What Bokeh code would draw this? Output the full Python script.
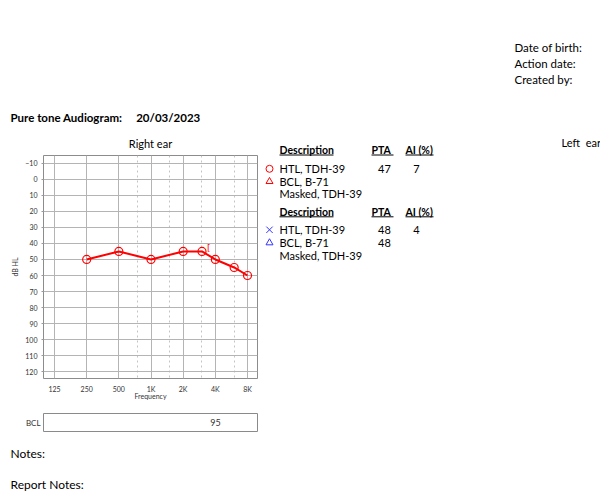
from bokeh.plotting import figure
from bokeh.layouts import column, row
from bokeh.models import Range1d, FixedTicker, Label
from bokeh.core.properties import value
from bokeh.embed import file_html
from bokeh.resources import INLINE

# ---------------- data ----------------
freqs = [250, 500, 1000, 2000, 3000, 4000, 6000, 8000]
right_htl_db = [50, 45, 50, 45, 45, 50, 55, 60]
bc_masked_freq = [3000]
bc_masked_db = [45]

x_tick_values = [125, 250, 500, 1000, 2000, 4000, 8000]
x_tick_labels = ["125", "250", "500", "1K", "2K", "4K", "8K"]
x_half_octaves = [750, 1500, 3000, 6000]
y_tick_values = [-10, 0, 10, 20, 30, 40, 50, 60, 70, 80, 90, 100, 110, 120]

right_rows_marker = ["circle", "triangle", None]
right_rows_desc = ["HTL, TDH-39", "BCL, B-71", "Masked, TDH-39"]
right_rows_pta = ["47", "", ""]
right_rows_ai = ["7", "", ""]

left_rows_marker = ["x", "triangle", None]
left_rows_desc = ["HTL, TDH-39", "BCL, B-71", "Masked, TDH-39"]
left_rows_pta = ["48", "48", ""]
left_rows_ai = ["4", "", ""]

table_headers = ["Description", "PTA", "AI (%)"]
header_lines = ["Date of birth:", "Action date:", "Created by:"]
bcl_value = ["95"]
audiogram_title = "Pure tone Audiogram:"
audiogram_date = "20/03/2023"

RED = "#ff0000"
BLUE = "#3434ff"
FONT = "Lato"
INK = "#000000"

TOP = 127  # page y where the audiogram row starts


def blank(x0, x1, y0, y1):
    """A figure whose frame fills it, with page-pixel data ranges."""
    f = figure(width=x1 - x0, height=y1 - y0, x_range=Range1d(x0, x1), y_range=Range1d(y1, y0),
               output_backend="svg", toolbar_location=None,
               x_axis_location=None, y_axis_location=None, min_border=0)
    f.grid.visible = False
    f.outline_line_color = None
    return f


def put(f, text, x, y, size, bold=False, align="left", color=INK):
    f.add_layout(Label(x=x, y=y, text=text, text_font=FONT, text_font_size=f"{size}px",
                       text_font_style="bold" if bold else "normal",
                       text_align=align, text_baseline="middle", text_color=color))


# ---------------- header ----------------
head = blank(0, 600, 0, TOP)
for txt, yy in zip(header_lines, [47, 62.5, 78.5]):
    put(head, txt, 514, yy, 11.5)
put(head, audiogram_title, 10, 116.5, 11.5, bold=True)
put(head, audiogram_date, 135.7, 116.5, 11.5, bold=True)

# ---------------- audiogram ----------------
p = figure(width=264, height=(155 - TOP) + 223 + 32, x_axis_type="log",
           x_range=Range1d(98.6, 9922), y_range=Range1d(124.2, -14.8),
           output_backend="svg", toolbar_location=None,
           min_border_left=43, min_border_right=7, min_border_top=155 - TOP, min_border_bottom=32,
           title="Right ear")
p.title.align = "center"
p.title.offset = -3
p.title.text_font = FONT
p.title.text_font_size = "11px"
p.title.text_font_style = "normal"
p.title.text_color = INK
p.title.standoff = 12
p.outline_line_color = "#8c8c8c"
p.xaxis.ticker = FixedTicker(ticks=x_tick_values, minor_ticks=x_half_octaves)
p.xaxis.major_label_overrides = dict(zip(x_tick_values, x_tick_labels))
p.yaxis.ticker = FixedTicker(ticks=y_tick_values)
p.xgrid.grid_line_color = "#b4b4b4"
p.ygrid.grid_line_color = "#b4b4b4"
p.xgrid.minor_grid_line_color = "#c4c4c4"
p.xgrid.minor_grid_line_dash = "2 3"
for ax in (p.xaxis, p.yaxis):
    ax.axis_line_color = None
    ax.major_tick_line_color = "#9a9a9a"
    ax.major_tick_in = 0
    ax.minor_tick_line_color = None
    ax.major_label_text_font = FONT
    ax.major_label_text_font_size = "7px"
    ax.major_label_text_color = "#333333"
    ax.axis_label_text_font = FONT
    ax.axis_label_text_font_size = "7px"
    ax.axis_label_text_font_style = "normal"
    ax.axis_label_text_color = "#333333"
p.xaxis.major_tick_out = 0
p.yaxis.major_tick_out = 2
p.xaxis.axis_label = "Frequency"
p.yaxis.axis_label = "dB HL"
p.xaxis.major_label_standoff = 2
p.xaxis.axis_label_standoff = -4
p.yaxis.major_label_standoff = 4
p.yaxis.axis_label_standoff = 3

p.line(freqs, right_htl_db, line_color=RED, line_width=2)
p.scatter(freqs, right_htl_db, marker="circle", size=8, line_color=RED, fill_color=None, line_width=1.2)
p.text(x=bc_masked_freq, y=bc_masked_db, text=["["], text_color=RED, text_font=value("DejaVu Sans"),
       text_font_size="9px", text_align="left", text_baseline="middle", x_offset=5, y_offset=-3)

# ---------------- BCL strip ----------------
b = figure(width=264, height=30, x_range=Range1d(43, 261), y_range=Range1d(0, 1),
           output_backend="svg", toolbar_location=None, x_axis_location=None,
           min_border_left=43, min_border_right=3, min_border_top=3, min_border_bottom=9)
b.grid.visible = False
b.outline_line_color = "#8a8a8a"
b.yaxis.ticker = FixedTicker(ticks=[0.5])
b.yaxis.major_label_overrides = {0.5: "BCL"}
b.yaxis.axis_line_color = None
b.yaxis.major_tick_line_color = None
b.yaxis.major_tick_out = 0
b.yaxis.major_tick_in = 0
b.yaxis.minor_tick_line_color = None
b.yaxis.major_label_standoff = 3
b.yaxis.major_label_text_font = FONT
b.yaxis.major_label_text_font_size = "8px"
b.yaxis.major_label_text_color = "#333333"
b.text(x=[218.3], y=[0.5], text=bcl_value, text_font=value(FONT), text_font_size="9px",
       text_align="center", text_baseline="middle", text_color="#333333")

# ---------------- legend tables ----------------
leg = blank(264, 600, TOP, 440)
put(leg, "Left\u00a0\u00a0ear", 561, 141.5, 11)


def table(y_head, y_rows, markers, desc, pta, ai, color):
    for txt, x0, x1 in zip(table_headers, [279, 371, 405], [333, 393, 433]):
        put(leg, txt, x0, y_head, 10.5, bold=True)
        leg.segment(x0=[x0], y0=[y_head + 5], x1=[x1], y1=[y_head + 5], line_color=INK, line_width=1)
    for yy, m, d, pt, a in zip(y_rows, markers, desc, pta, ai):
        if m:
            leg.scatter([269], [yy], marker=m, size=9 if m == "x" else 7,
                        line_color=color, fill_color=None, line_width=1)
        put(leg, d, 279, yy, 11)
        if pt:
            put(leg, pt, 384, yy, 11, align="center")
        if a:
            put(leg, a, 416, yy, 11, align="center")


table(149.5, [168.3, 181, 193.3], right_rows_marker, right_rows_desc, right_rows_pta, right_rows_ai, RED)
table(211.3, [229.3, 242.3, 255.3], left_rows_marker, left_rows_desc, left_rows_pta, left_rows_ai, BLUE)

# ---------------- notes ----------------
notes = blank(0, 600, 440, 496)
put(notes, "Notes:", 10, 453.3, 12)
put(notes, "Report Notes:", 10, 484, 12)

layout = column(head, row(column(p, b), leg), notes)
open("out.html", "w").write(file_html(layout, INLINE))
